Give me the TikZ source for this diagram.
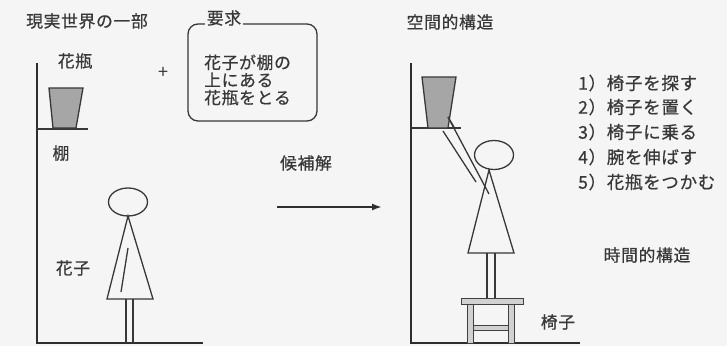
\documentclass[tikz,border=0pt]{standalone}
\usepackage{fontspec}
\setmainfont[LetterSpace=4, FakeBold=0.6]{Noto Sans CJK JP}
\newfontfamily\thinfont{Noto Sans CJK JP}
\usetikzlibrary{arrows.meta}

\tikzset{
  lbl/.style={text=black!78, inner sep=0pt, font=\fontsize{16.8}{17.6}\selectfont},
  steplbl/.style={lbl, anchor=west, font=\fontsize{17.5}{18}\selectfont},
  wall/.style={draw=black!82, line width=1.9pt},
  stick/.style={draw=black!78, line width=1.3pt},
  vase/.style={stick, fill=black!35},
  wood/.style={draw=black!75, line width=1pt, fill=black!18},
}

\begin{document}
\begin{tikzpicture}[x=1pt, y=-1pt]
    \fill[black!4] (0,0) rectangle (727,346);
    \useasboundingbox (0,0) rectangle (727,346);

    % Titles
    \node (real) [lbl] at (87,21) {現実世界の一部};
    \node (space) [lbl] at (450,22) {空間的構造};
    \node (time) [lbl] at (647,255) {時間的構造};

    % Left scene: wall, shelf, vase
    \draw[wall] (37,63) -- (37,343) -- (203,343);
    \draw[stick] (37,129) -- (88,129);
    \filldraw[vase] (49,88) -- (83,88) -- (76,128) -- (53,128) -- cycle;
    \node (vaseL) [lbl] at (75,61) {花瓶};
    \node (shelfL) [lbl] at (61,153) {棚};

    % Hanako standing
    \draw[stick] (128,202) ellipse (19.5 and 14);
    \draw[stick] (128,216) -- (107,299) -- (153,299) -- cycle;
    \draw[stick] (128,248) -- (121,292);
    \draw[stick] (126,299) -- (126,343) (133,299) -- (133,343);
    \node (hanakoL) [lbl] at (73,268) {花子};

    \node (plus) [lbl, font=\thinfont\fontsize{18}{18}\selectfont] at (163,73) {+};

    % Requirement box
    \draw[stick, rounded corners=10pt] (188,24) rectangle (317,121);
    \node (reqTitle) [lbl, fill=black!4, inner xsep=2pt] at (224,18) {要求};
    \node (req) [lbl, anchor=west, align=left] at (204,80) {花子が棚の\\上にある\\花瓶をとる};

    % Candidate solution arrow
    \node (cand) [lbl] at (306,163) {候補解};
    \coordinate (arrowFrom) at (277,207);
    \coordinate (arrowTo) at (382,207);
    \draw[black!82, line width=1.8pt, -{Latex[length=10pt,width=7pt]}] (arrowFrom) -- (arrowTo);

    % Right scene: wall, shelf, vase
    \draw[wall] (411,63) -- (411,343) -- (580,343);
    \draw[stick] (411,128) -- (461,128);
    \filldraw[vase] (422,77) -- (456,77) -- (448,128) -- (428,128) -- cycle;

    % Hanako reaching from the chair
    \draw[stick] (443,131) -- (476,182);
    \draw[stick] (448,117) -- (489,194);
    \draw[stick] (448,117) -- (454,127);
    \draw[stick] (494,155) ellipse (19.5 and 14.5);
    \draw[stick] (489,170) -- (468,253) -- (514,253) -- cycle;
    \draw[stick] (487,253) -- (487,298) (495,253) -- (495,298);

    % Chair
    \filldraw[wood] (461,298) rectangle (523,304);
    \filldraw[wood] (467,304) rectangle (473,343);
    \filldraw[wood] (508,304) rectangle (514,343);
    \filldraw[wood] (473,325) rectangle (508,330);
    \node (chair) [lbl] at (558,322) {椅子};

    % Steps
    \node (s1) [steplbl] at (578,83) {1）椅子を探す};
    \node (s2) [steplbl] at (578,107) {2）椅子を置く};
    \node (s3) [steplbl] at (578,132) {3）椅子に乗る};
    \node (s4) [steplbl] at (578,157) {4）腕を伸ばす};
    \node (s5) [steplbl] at (578,182) {5）花瓶をつかむ};
\end{tikzpicture}
\end{document}
